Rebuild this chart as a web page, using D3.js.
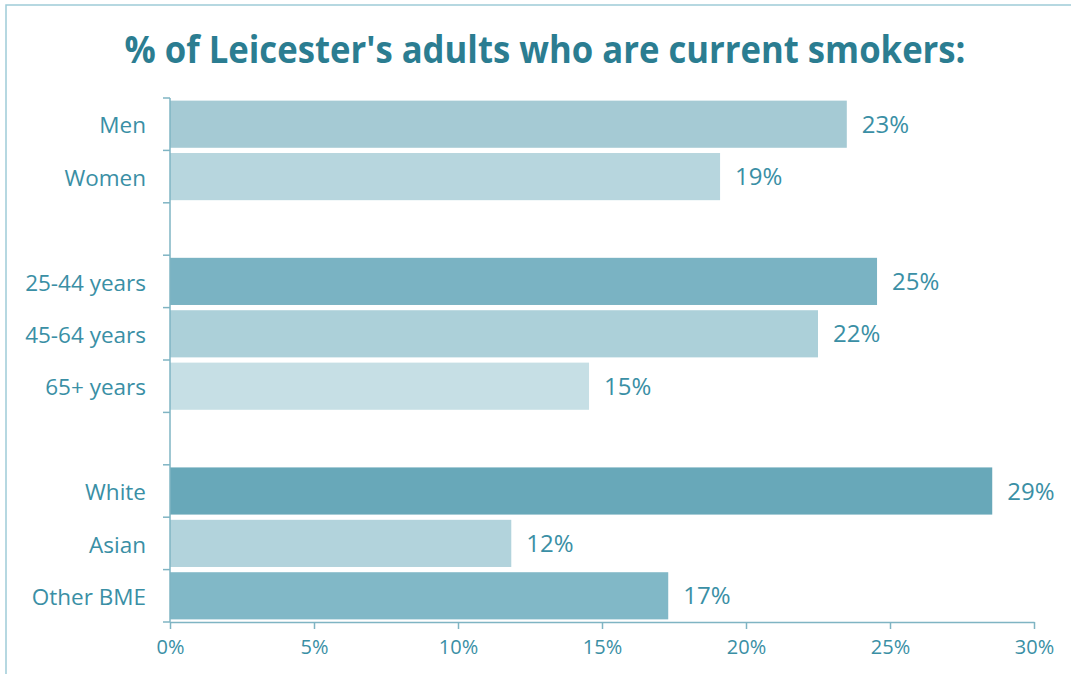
<!DOCTYPE html>
<html><head><meta charset="utf-8">
<script src="https://cdn.jsdelivr.net/npm/d3@7"></script>
<style>body{margin:0;background:#fff}svg{display:block}</style>
</head><body><svg id="c" width="1071" height="674"></svg>
<script>
const categories = ["Men","Women","gap1","25-44 years","45-64 years","65+ years","gap2","White","Asian","Other BME"];
const barCategories = ["Men","Women","25-44 years","45-64 years","65+ years","White","Asian","Other BME"];
const values = [23.5, 19.1, 24.55, 22.5, 14.55, 28.55, 11.85, 17.3];
const valueLabels = ["23%","19%","25%","22%","15%","29%","12%","17%"];
const barColors = ["#a5cad4","#b7d6de","#7ab3c3","#acd0d9","#c6dfe5","#68a8b9","#b2d3dc","#81b8c7"];
const xTicks = [0,5,10,15,20,25,30];
const title = "% of Leicester's adults who are current smokers:";

const svg = d3.select("#c");
const textColor = "#3a8fa5";
const axisColor = "#7fb4c3";

// frame
svg.append("path").attr("d","M6,674 L6,5 L1071,5").attr("fill","none").attr("stroke","#9fcbd8").attr("stroke-width",1.5);

svg.append("text").attr("x",545).attr("y",63).attr("text-anchor","middle")
  .attr("font-family","Open Sans").attr("font-weight","bold").attr("font-size",37)
  .attr("fill","#2b7d91").attr("textLength",841).attr("lengthAdjust","spacingAndGlyphs").text(title);

const x = d3.scaleLinear().domain([0,30]).range([170,1034]);
const y = d3.scaleBand().domain(categories).range([98,622]).paddingInner(0.1).paddingOuter(0.05);

const step = y.step();
const y0 = 98;

const data = barCategories.map((c,i)=>({c, v:values[i], label:valueLabels[i], color:barColors[i]}));

svg.selectAll("rect.bar").data(data).join("rect").attr("class","bar")
  .attr("x",x(0)).attr("y",d=>y(d.c)).attr("width",d=>x(d.v)-x(0)).attr("height",y.bandwidth())
  .attr("fill",d=>d.color);

svg.selectAll("text.val").data(data).join("text").attr("class","val")
  .attr("x",d=>x(d.v)+15).attr("y",d=>y(d.c)+y.bandwidth()/2).attr("dy","0.36em")
  .attr("font-family","Open Sans").attr("font-size",24).attr("fill",textColor).text(d=>d.label);

// y axis
const yg = svg.append("g");
yg.append("line").attr("x1",170).attr("x2",170).attr("y1",y0).attr("y2",622).attr("stroke",axisColor).attr("stroke-width",1.5);
const boundaries = d3.range(categories.length+1).map(i=>y0+i*step);
yg.selectAll("line.t").data(boundaries).join("line").attr("class","t")
  .attr("x1",163).attr("x2",170).attr("y1",d=>d).attr("y2",d=>d).attr("stroke",axisColor).attr("stroke-width",1.5);
yg.selectAll("text").data(barCategories).join("text")
  .attr("x",146).attr("y",d=>y(d)+y.bandwidth()/2+1).attr("dy","0.36em").attr("text-anchor","end")
  .attr("font-family","Open Sans").attr("font-size",22.5).attr("fill",textColor).text(d=>d);

// x axis
const xAxis = d3.axisBottom(x).tickValues(xTicks).tickFormat(d=>d+"%").tickSize(7).tickSizeOuter(0);
const xg = svg.append("g").attr("transform","translate(0,622)").call(xAxis);
xg.select(".domain").attr("stroke",axisColor).attr("stroke-width",1.5);
xg.selectAll(".tick line").attr("stroke",axisColor).attr("stroke-width",1.5);
xg.selectAll(".tick text").attr("font-family","Open Sans").attr("font-size",20).attr("fill",textColor).attr("y",18);
</script></body></html>
